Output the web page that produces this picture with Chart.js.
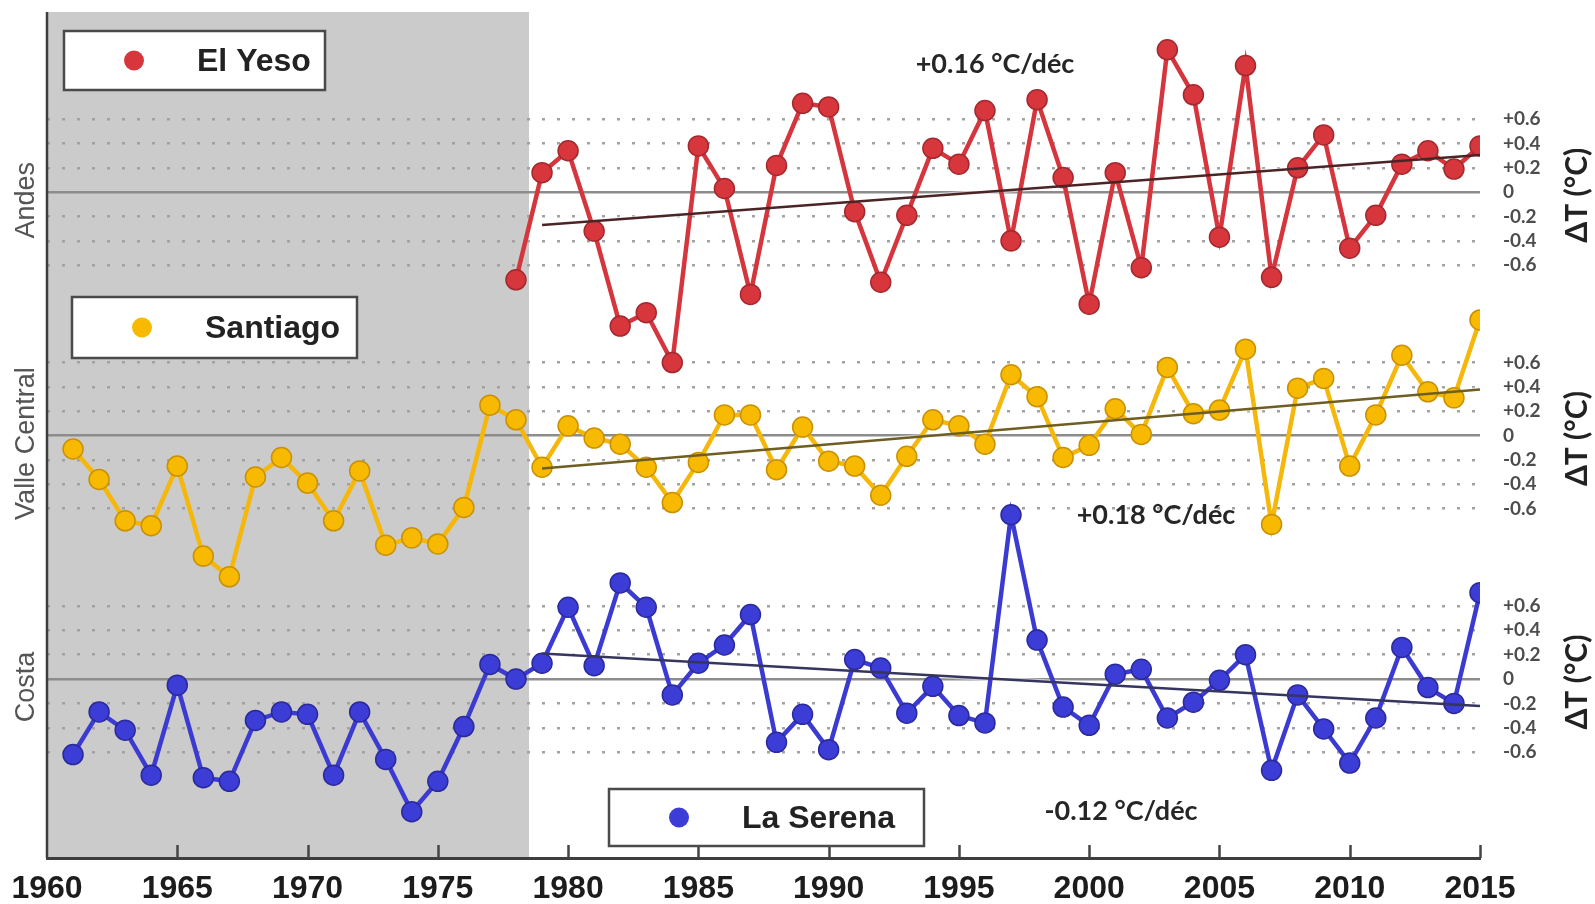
<!DOCTYPE html>
<html>
<head>
<meta charset="utf-8">
<script src="https://cdn.jsdelivr.net/npm/chart.js@4/dist/chart.umd.min.js"></script>
<style>
  html, body { margin: 0; padding: 0; background: #fff; }
  canvas { display: block; }
</style>
</head>
<body>
<canvas id="chart" width="1595" height="904"></canvas>
<script>
// Annual temperature anomalies (ΔT, °C) per station
const YEARS_EL_YESO = [1978,1979,1980,1981,1982,1983,1984,1985,1986,1987,1988,1989,1990,1991,1992,1993,1994,1995,1996,1997,1998,1999,2000,2001,2002,2003,2004,2005,2006,2007,2008,2009,2010,2011,2012,2013,2014,2015];
const EL_YESO = [-0.72,0.16,0.34,-0.32,-1.10,-0.99,-1.40,0.38,0.03,-0.84,0.22,0.73,0.70,-0.16,-0.74,-0.19,0.36,0.23,0.67,-0.40,0.76,0.12,-0.92,0.16,-0.62,1.17,0.80,-0.37,1.04,-0.70,0.20,0.47,-0.46,-0.19,0.23,0.34,0.19,0.38];

const YEARS_SANTIAGO = [1961,1962,1963,1964,1965,1966,1967,1968,1969,1970,1971,1972,1973,1974,1975,1976,1977,1978,1979,1980,1981,1982,1983,1984,1985,1986,1987,1988,1989,1990,1991,1992,1993,1994,1995,1996,1997,1998,1999,2000,2001,2002,2003,2004,2005,2006,2007,2008,2009,2010,2011,2012,2013,2014,2015];
const SANTIAGO = [-0.11,-0.36,-0.70,-0.74,-0.25,-0.99,-1.16,-0.34,-0.18,-0.39,-0.70,-0.29,-0.90,-0.84,-0.89,-0.59,0.25,0.13,-0.26,0.08,-0.02,-0.07,-0.26,-0.55,-0.22,0.17,0.17,-0.28,0.07,-0.21,-0.25,-0.49,-0.17,0.13,0.08,-0.07,0.50,0.32,-0.18,-0.08,0.22,0.01,0.56,0.18,0.21,0.71,-0.73,0.39,0.47,-0.25,0.17,0.66,0.36,0.31,0.95];

const YEARS_LA_SERENA = [1961,1962,1963,1964,1965,1966,1967,1968,1969,1970,1971,1972,1973,1974,1975,1976,1977,1978,1979,1980,1981,1982,1983,1984,1985,1986,1987,1988,1989,1990,1991,1992,1993,1994,1995,1996,1997,1998,1999,2000,2001,2002,2003,2004,2005,2006,2007,2008,2009,2010,2011,2012,2013,2014,2015];
const LA_SERENA = [-0.62,-0.27,-0.42,-0.79,-0.05,-0.81,-0.84,-0.34,-0.27,-0.29,-0.79,-0.27,-0.66,-1.09,-0.84,-0.39,0.12,0.00,0.13,0.59,0.11,0.79,0.59,-0.13,0.13,0.28,0.53,-0.52,-0.29,-0.58,0.16,0.09,-0.28,-0.06,-0.30,-0.36,1.35,0.32,-0.23,-0.38,0.04,0.08,-0.32,-0.19,-0.01,0.20,-0.75,-0.13,-0.41,-0.69,-0.32,0.26,-0.07,-0.20,0.71];

const STATIONS = ['El Yeso', 'Santiago', 'La Serena'];
const REGIONS = ['Andes', 'Valle Central', 'Costa'];

// Linear trends 1979-2015: value of the fit in 1979 and rate in °C per decade
const TREND_YEARS = [1979, 2015];
const TREND_START = [-0.27, -0.27, 0.21];
const TREND_RATES = [0.16, 0.18, -0.12];
const TREND_LABELS = ['+0.16 °C/déc', '+0.18 °C/déc', '-0.12 °C/déc'];

const X_TICKS = [1960,1965,1970,1975,1980,1985,1990,1995,2000,2005,2010,2015];
const DT_TICKS = [0.6, 0.4, 0.2, 0, -0.2, -0.4, -0.6];
const DT_TICK_LABELS = ['+0.6', '+0.4', '+0.2', '0', '-0.2', '-0.4', '-0.6'];
const SHADED_UNTIL = 1978.5;

// Vertical stacking of the three panels on one shared axis
const PANEL_OFFSETS = [4, 2, 0];
const Y_MIN = -1.47, Y_MAX = 5.48;

const COLORS = [
  { line: '#d5353c', fill: '#d8363d', edge: '#a3292e', trend: '#4b2426' },
  { line: '#f6b70b', fill: '#f8b901', edge: '#c99100', trend: '#6f5e22' },
  { line: '#3b3bd2', fill: '#3c3cd6', edge: '#2a2a9c', trend: '#35355f' }
];

const SERIES = [
  { years: YEARS_EL_YESO, values: EL_YESO },
  { years: YEARS_SANTIAGO, values: SANTIAGO },
  { years: YEARS_LA_SERENA, values: LA_SERENA }
];

function seriesPoints(s, offset) {
  return s.years.map((yr, i) => ({ x: yr, y: s.values[i] + offset }));
}
function trendPoints(i, offset) {
  const [a, b] = TREND_YEARS;
  const start = TREND_START[i];
  const end = start + TREND_RATES[i] * (b - a) / 10;
  return [{ x: a, y: start + offset }, { x: b, y: end + offset }];
}

// all horizontal reference levels of the three panels
const Y_LEVELS = [];
PANEL_OFFSETS.forEach((off) => {
  DT_TICKS.forEach((t, k) => Y_LEVELS.push({ value: off + t, label: DT_TICK_LABELS[k] }));
});

const datasets = [];
SERIES.forEach((s, i) => {
  datasets.push({
    label: STATIONS[i],
    data: seriesPoints(s, PANEL_OFFSETS[i]),
    borderColor: COLORS[i].line,
    backgroundColor: COLORS[i].fill,
    pointBackgroundColor: COLORS[i].fill,
    pointBorderColor: COLORS[i].edge,
    pointBorderWidth: 1.5,
    pointRadius: 10,
    borderWidth: 4.5,
    tension: 0,
    order: 2
  });
});
SERIES.forEach((s, i) => {
  datasets.push({
    label: 'trend ' + STATIONS[i],
    data: trendPoints(i, PANEL_OFFSETS[i]),
    borderColor: COLORS[i].trend,
    borderWidth: 2.5,
    pointRadius: 0,
    tension: 0,
    order: 1
  });
});

const decor = {
  id: 'decor',
  beforeDraw(chart) {
    const { ctx, chartArea: a } = chart;
    const xs = chart.scales.x;
    ctx.save();
    ctx.fillStyle = '#ffffff';
    ctx.fillRect(0, 0, chart.width, chart.height);
    ctx.fillStyle = '#cbcbcb';
    const x1 = xs.getPixelForValue(SHADED_UNTIL);
    ctx.fillRect(a.left, a.top, x1 - a.left, a.bottom - a.top);
    ctx.restore();
  },
  beforeDatasetsDraw(chart) {
    // soft halo under the trend lines
    const { ctx } = chart;
    const xs = chart.scales.x, ys = chart.scales.y;
    ctx.save();
    ctx.strokeStyle = 'rgba(255,255,255,0.55)';
    ctx.lineWidth = 5;
    SERIES.forEach((s, i) => {
      const pts = trendPoints(i, PANEL_OFFSETS[i]);
      ctx.beginPath();
      ctx.moveTo(xs.getPixelForValue(pts[0].x), ys.getPixelForValue(pts[0].y));
      ctx.lineTo(xs.getPixelForValue(pts[1].x), ys.getPixelForValue(pts[1].y));
      ctx.stroke();
    });
    ctx.restore();
  },
  afterDatasetsDraw(chart) {
    const { ctx, chartArea: a } = chart;
    const xs = chart.scales.x;
    ctx.save();
    ctx.strokeStyle = '#3e3e3e';
    ctx.lineWidth = 2.5;
    ctx.beginPath();
    ctx.moveTo(a.left, a.top);
    ctx.lineTo(a.left, a.bottom);
    ctx.stroke();
    // inward year ticks
    ctx.strokeStyle = '#444';
    X_TICKS.slice(1).forEach(v => {
      const x = Math.round(xs.getPixelForValue(v)) + 0.5;
      ctx.beginPath();
      ctx.moveTo(x, a.bottom);
      ctx.lineTo(x, a.bottom - 13);
      ctx.stroke();
    });
    ctx.restore();
  },
  afterDraw(chart) {
    const { ctx } = chart;
    const ys = chart.scales.y;
    ctx.save();

    // region names on the left, ΔT titles on the right
    PANEL_OFFSETS.forEach((off, p) => {
      const y0 = ys.getPixelForValue(off);
      ctx.save();
      ctx.translate(27, y0 + 8);
      ctx.rotate(-Math.PI / 2);
      ctx.font = '27px "Liberation Sans", Arial, sans-serif';
      ctx.fillStyle = '#555';
      ctx.textAlign = 'center';
      ctx.textBaseline = 'middle';
      ctx.fillText(REGIONS[p], 0, 0);
      ctx.restore();

      ctx.save();
      ctx.translate(1577, y0 + 3);
      ctx.rotate(-Math.PI / 2);
      ctx.font = 'bold 30px Lato, "Liberation Sans", sans-serif';
      ctx.fillStyle = '#222';
      ctx.textAlign = 'center';
      ctx.textBaseline = 'middle';
      ctx.fillText('ΔT (°C)', 0, 0);
      ctx.restore();
    });

    // trend rates
    const rateSpots = [[995, 64], [1156, 515], [1121, 811]];
    ctx.font = 'bold 27px Lato, "Liberation Sans", sans-serif';
    ctx.fillStyle = '#262626';
    ctx.textAlign = 'center';
    ctx.textBaseline = 'middle';
    TREND_LABELS.forEach((t, i) => ctx.fillText(t, rateSpots[i][0], rateSpots[i][1]));

    // station legend boxes
    const boxes = [
      { x: 64, y: 31, w: 261, h: 59 },
      { x: 72, y: 297, w: 285, h: 61 },
      { x: 609, y: 789, w: 315, h: 57 }
    ];
    boxes.forEach((b, i) => {
      ctx.fillStyle = '#ffffff';
      ctx.fillRect(b.x, b.y, b.w, b.h);
      ctx.strokeStyle = '#4a4a4a';
      ctx.lineWidth = 2.5;
      ctx.strokeRect(b.x, b.y, b.w, b.h);
      const cy = b.y + b.h / 2;
      ctx.beginPath();
      ctx.arc(b.x + 70, cy, 10, 0, Math.PI * 2);
      ctx.fillStyle = COLORS[i].fill;
      ctx.fill();
      ctx.font = 'bold 32px "Liberation Sans", Arial, sans-serif';
      ctx.fillStyle = '#222';
      ctx.textAlign = 'left';
      ctx.textBaseline = 'middle';
      ctx.fillText(STATIONS[i], b.x + 133, cy + 2);
    });
    ctx.restore();
  }
};

function isZeroLevel(ctx) {
  const v = ctx.tick ? ctx.tick.value : NaN;
  return PANEL_OFFSETS.some(o => Math.abs(v - o) < 1e-6);
}

new Chart(document.getElementById('chart'), {
  type: 'line',
  data: { datasets },
  plugins: [decor],
  options: {
    responsive: false,
    animation: false,
    devicePixelRatio: 1,
    layout: { padding: { left: 47, top: 12, right: 0, bottom: 0 } },
    plugins: { legend: { display: false }, tooltip: { enabled: false } },
    scales: {
      x: {
        type: 'linear',
        min: 1960,
        max: 2015,
        afterBuildTicks: s => { s.ticks = X_TICKS.map(v => ({ value: v })); },
        afterFit: s => { s.height = 46; s.paddingLeft = 0; s.paddingRight = 0; },
        grid: { display: false, drawTicks: false },
        border: { display: true, color: '#3e3e3e', width: 3 },
        ticks: {
          autoSkip: false,
          maxRotation: 0,
          padding: 12,
          color: '#1c1c1c',
          font: { family: '"Liberation Sans", Arial, sans-serif', size: 32, weight: 'bold' },
          callback: v => String(v)
        }
      },
      y: {
        type: 'linear',
        position: 'right',
        min: Y_MIN,
        max: Y_MAX,
        afterBuildTicks: s => { s.ticks = Y_LEVELS.map(l => ({ value: l.value })); },
        afterFit: s => { s.width = 115; s.paddingTop = 0; s.paddingBottom = 0; },
        grid: {
          drawTicks: false,
          color: c => isZeroLevel(c) ? '#8c8c8c' : '#a2a2a2',
          lineWidth: 2.5
        },
        border: {
          display: false,
          dash: c => isZeroLevel(c) ? [] : [3, 12]
        },
        ticks: {
          autoSkip: false,
          padding: 23,
          color: '#4d4d4d',
          font: { family: 'Lato, "Liberation Sans", sans-serif', size: 19, weight: 'bold' },
          callback: (v, i) => Y_LEVELS[i] ? Y_LEVELS[i].label : ''
        }
      }
    }
  }
});
</script>
</body>
</html>
